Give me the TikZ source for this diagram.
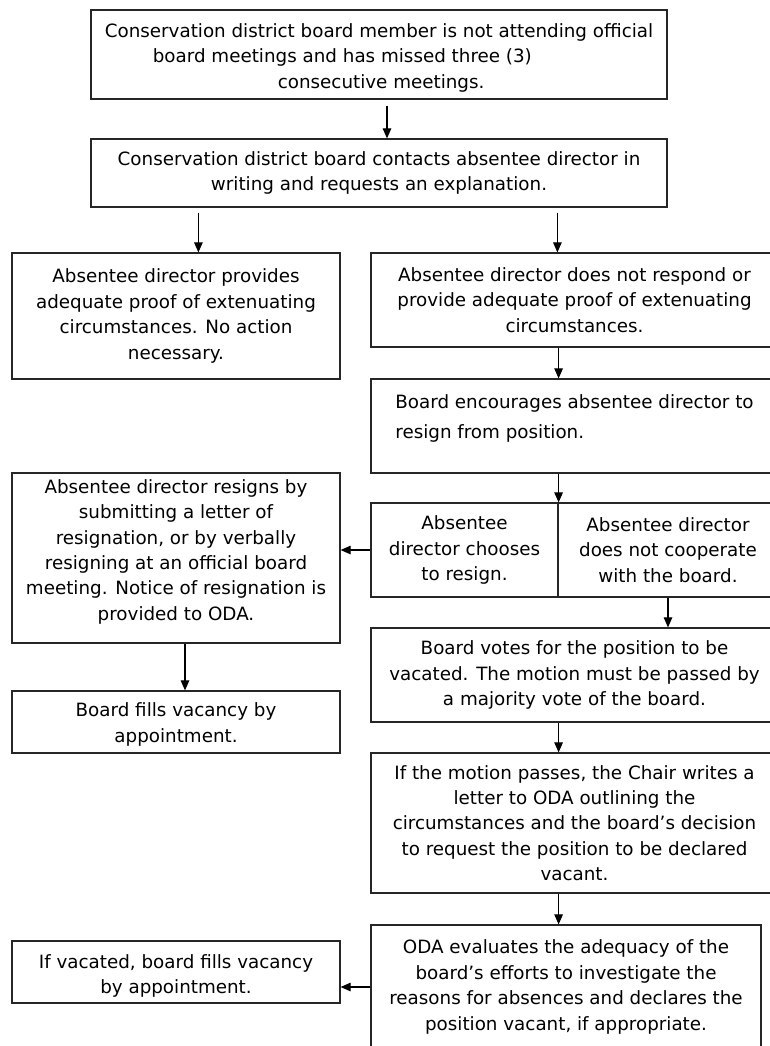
\documentclass[tikz,border=0pt]{standalone}
\usepackage{fontspec}
\setmainfont{DejaVu Sans}
\usetikzlibrary{arrows.meta,calc}
\begin{document}
\begin{tikzpicture}[x=1pt,y=-1pt,
  box/.style={draw=black!85, line width=1.2pt, inner sep=0pt, align=center,
    font=\fontsize{18.3}{25.4}\selectfont},
  arr/.style={-{Triangle[length=10pt,width=8.5pt]}, line width=1.1pt, draw=black}]
\useasboundingbox (0,0) rectangle (770,1046);
\fill[white] (0,0) rectangle (770,1046);

\node[box, minimum width=576pt, minimum height=89pt, align=left] (n1) at (379,54.5)
  {\rule{0pt}{20.7pt}Conservation district board member is not attending official\\
   \hspace*{48pt}board meetings and has missed three (3)\\
   \hspace*{173pt}consecutive meetings.};

\node[box, minimum width=576pt, minimum height=68pt] (n2) at (379,173)
  {Conservation district board contacts absentee director in\\
   writing and requests an explanation.};

\node[box, minimum width=328pt, minimum height=126pt] (A) at (176,316)
  {Absentee director provides\\ adequate proof of extenuating\\ circumstances. No action\\ necessary.};

\node[box, minimum width=407pt, minimum height=94pt] (B) at (574.5,300)
  {Absentee director does not respond or\\ provide adequate proof of extenuating\\ circumstances.};

\node[box, minimum width=407pt, minimum height=94pt, align=left] (C) at (574.5,426)
  {Board encourages absentee director to\\[4.6pt] resign from position.\rule[-19.9pt]{0pt}{0pt}};

\node[box, minimum width=187pt, minimum height=94pt] (D1) at (464.5,550)
  {Absentee\\ director chooses\\ to resign.};

\node[box, minimum width=220pt, minimum height=94pt] (D2) at (668,550)
  {Absentee director\\ does not cooperate\\ with the board.};

\node[box, minimum width=328pt, minimum height=170pt] (E) at (176,558)
  {Absentee director resigns by\\ submitting a letter of\\ resignation, or by verbally\\
   resigning at an official board\\ meeting. Notice of resignation is\\
   provided to ODA.\rule[-16.3pt]{0pt}{0pt}};

\node[box, minimum width=328pt, minimum height=62pt] (F) at (176,722)
  {\rule{0pt}{19.1pt}Board fills vacancy by\\ appointment.};

\node[box, minimum width=407pt, minimum height=94pt] (G) at (574.5,675)
  {Board votes for the position to be\\ vacated. The motion must be passed by\\ a majority vote of the board.};

\node[box, minimum width=407pt, minimum height=140pt] (H) at (574.5,823)
  {If the motion passes, the Chair writes a\\ letter to ODA outlining the\\
   circumstances and the board’s decision\\ to request the position to be declared\\ vacant.};

\node[box, minimum width=390pt, minimum height=124pt] (I) at (566,987)
  {ODA evaluates the adequacy of the\\ board’s efforts to investigate the\\
   reasons for absences and declares the\\ position vacant, if appropriate.};

\node[box, minimum width=328pt, minimum height=62pt] (J) at (176,972)
  {\rule{0pt}{22.3pt}If vacated, board fills vacancy\\ by appointment.};

\draw[arr] ($(n1.south)+(8,6)$) -- ($(n2.north)+(8,0)$);
\draw[arr] ($(n2.south -| A.north west)+(187,5)$) -- ($(A.north west)+(187,0)$);
\draw[arr] ($(n2.south -| B.north west)+(187,5)$) -- ($(B.north west)+(187,0)$);
\draw[arr] (B.south -| D1.east) -- (C.north -| D1.east);
\draw[arr] (C.south -| D1.east) -- (D1.north east);
\draw[arr] (D1.west) -- (D1.west -| E.east);
\draw[arr] ($(E.south)+(9,0)$) -- ($(F.north)+(9,0)$);
\draw[arr] (D2.south) -- (D2.south |- G.north);
\draw[arr] (G.south -| D1.east) -- (H.north -| D1.east);
\draw[arr] (H.south -| D1.east) -- (I.north -| D1.east);
\draw[arr] (I.west) -- (I.west -| J.east);
\end{tikzpicture}
\end{document}
